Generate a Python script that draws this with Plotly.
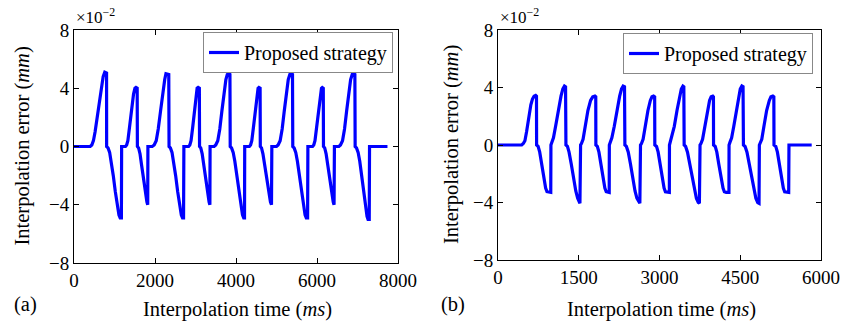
import plotly.graph_objects as go

# ---------------- data ----------------
# panel (a): interpolation time (ms), interpolation error (x1e-2 mm)
curve_a = [
    (0, 0), (400, 0),
    (440, 0.1), (480, 0.4), (520, 1.0), (570, 2.0), (620, 3.0), (670, 4.0), (720, 4.8), (760, 5.1), (795, 5.1), (804, 5.05), (806, 0),
    (840, -0.1), (880, -0.4), (920, -1.0), (970, -2.0), (1020, -3.1), (1070, -4.1), (1110, -4.7), (1140, -4.9), (1170, -4.9), (1176, 0),
    (1270, 0), (1300, 0.1), (1330, 0.4), (1370, 1.3), (1420, 2.6), (1470, 3.6), (1505, 4.0), (1530, 4.05), (1560, 4.0), (1565, 0),
    (1595, -0.1), (1630, -0.5), (1670, -1.3), (1720, -2.4), (1770, -3.3), (1800, -3.8), (1820, -4.0), (1825, 0),
    (1930, 0), (1980, 0.1), (2030, 0.4), (2080, 1.2), (2140, 2.5), (2190, 3.7), (2240, 4.6), (2270, 5.0), (2300, 5.0), (2340, 4.95), (2347, 0),
    (2380, -0.1), (2420, -0.4), (2460, -1.0), (2510, -2.0), (2560, -3.1), (2610, -4.1), (2650, -4.7), (2680, -4.9), (2705, -4.9), (2713, 0),
    (2830, 0), (2860, 0.1), (2890, 0.4), (2930, 1.3), (2980, 2.6), (3020, 3.6), (3040, 4.0), (3065, 4.05), (3095, 4.0), (3100, 0),
    (3130, -0.1), (3165, -0.5), (3205, -1.3), (3255, -2.4), (3305, -3.3), (3335, -3.8), (3355, -4.0), (3360, 0),
    (3460, 0), (3500, 0.1), (3550, 0.4), (3600, 1.2), (3650, 2.4), (3700, 3.6), (3750, 4.6), (3785, 4.95), (3815, 5.0), (3850, 4.95), (3857, 0),
    (3890, -0.1), (3930, -0.4), (3970, -1.0), (4020, -2.0), (4070, -3.1), (4120, -4.1), (4160, -4.7), (4190, -4.9), (4210, -4.9), (4215, 0),
    (4330, 0), (4360, 0.1), (4390, 0.4), (4430, 1.3), (4480, 2.6), (4520, 3.6), (4545, 4.0), (4565, 4.05), (4595, 4.0), (4600, 0),
    (4630, -0.1), (4665, -0.5), (4710, -1.3), (4760, -2.4), (4810, -3.3), (4850, -3.8), (4876, -4.0), (4885, 0),
    (5000, 0), (5040, 0.1), (5090, 0.4), (5140, 1.2), (5190, 2.4), (5240, 3.6), (5290, 4.6), (5330, 4.95), (5360, 5.0), (5395, 4.95), (5402, 0),
    (5435, -0.1), (5475, -0.4), (5515, -1.0), (5565, -2.0), (5615, -3.1), (5665, -4.1), (5705, -4.7), (5735, -4.9), (5768, -4.9), (5775, 0),
    (5890, 0), (5920, 0.1), (5950, 0.4), (5990, 1.3), (6040, 2.6), (6085, 3.6), (6110, 4.0), (6130, 4.05), (6155, 4.0), (6160, 0),
    (6190, -0.1), (6225, -0.5), (6265, -1.3), (6315, -2.4), (6365, -3.3), (6400, -3.8), (6421, -4.0), (6430, 0),
    (6540, 0), (6580, 0.1), (6630, 0.4), (6680, 1.2), (6730, 2.4), (6780, 3.6), (6830, 4.6), (6870, 4.95), (6900, 5.0), (6935, 4.95), (6942, 0),
    (6975, -0.1), (7015, -0.4), (7055, -1.0), (7100, -2.0), (7150, -3.1), (7195, -4.1), (7235, -4.8), (7260, -5.0), (7290, -5.0), (7297, 0),
    (7740, 0),
]

# panel (b)
curve_b = [
    (0, 0), (440, 0),
    (470, 0.1), (500, 0.3), (530, 0.9), (570, 1.9), (610, 2.8), (640, 3.2), (670, 3.4), (700, 3.45), (715, 3.4), (717, 0),
    (745, -0.1), (775, -0.5), (810, -1.3), (850, -2.3), (885, -3.0), (910, -3.25), (950, -3.3), (980, -3.3), (983, 0),
    (1000, 0.2), (1030, 0.5), (1070, 1.3), (1120, 2.4), (1170, 3.4), (1205, 3.9), (1235, 4.1), (1255, 4.05), (1262, 0),
    (1290, -0.1), (1320, -0.5), (1360, -1.3), (1400, -2.3), (1445, -3.2), (1480, -3.7), (1510, -4.0), (1522, -4.05), (1534, 0),
    (1550, 0.1), (1580, 0.4), (1620, 1.3), (1670, 2.4), (1720, 3.1), (1760, 3.35), (1800, 3.4), (1816, 3.35), (1818, 0),
    (1845, -0.1), (1875, -0.5), (1910, -1.3), (1950, -2.3), (1985, -3.0), (2010, -3.25), (2040, -3.3), (2066, -3.3), (2068, 0),
    (2085, 0.2), (2115, 0.5), (2160, 1.3), (2210, 2.4), (2260, 3.4), (2295, 3.9), (2325, 4.1), (2350, 4.05), (2357, 0),
    (2385, -0.1), (2420, -0.5), (2460, -1.3), (2500, -2.3), (2545, -3.2), (2580, -3.7), (2615, -4.0), (2635, -4.05), (2647, 0),
    (2665, 0.1), (2695, 0.4), (2735, 1.3), (2785, 2.4), (2830, 3.1), (2860, 3.35), (2890, 3.4), (2910, 3.35), (2913, 0),
    (2945, -0.1), (2975, -0.5), (3010, -1.3), (3050, -2.3), (3085, -3.0), (3110, -3.25), (3150, -3.3), (3183, -3.3), (3185, 0),
    (3200, 0.2), (3230, 0.5), (3275, 1.3), (3325, 2.4), (3370, 3.4), (3405, 3.9), (3435, 4.1), (3452, 4.05), (3458, 0),
    (3485, -0.1), (3520, -0.5), (3560, -1.3), (3600, -2.3), (3645, -3.2), (3685, -3.7), (3720, -4.0), (3741, -4.05), (3753, 0),
    (3770, 0.1), (3800, 0.4), (3840, 1.3), (3885, 2.4), (3930, 3.1), (3960, 3.35), (3990, 3.4), (4002, 3.35), (4004, 0),
    (4035, -0.1), (4065, -0.5), (4100, -1.3), (4140, -2.3), (4180, -3.0), (4205, -3.25), (4240, -3.3), (4290, -3.3), (4292, 0),
    (4310, 0.2), (4340, 0.5), (4380, 1.3), (4425, 2.4), (4470, 3.4), (4500, 3.9), (4530, 4.1), (4552, 4.05), (4559, 0),
    (4590, -0.1), (4625, -0.5), (4665, -1.3), (4705, -2.3), (4750, -3.2), (4790, -3.7), (4825, -4.0), (4849, -4.05), (4855, 0),
    (4870, 0.1), (4900, 0.4), (4940, 1.3), (4990, 2.4), (5040, 3.1), (5070, 3.35), (5105, 3.4), (5124, 3.35), (5127, 0),
    (5160, -0.1), (5190, -0.5), (5225, -1.3), (5265, -2.3), (5300, -3.0), (5325, -3.25), (5360, -3.3), (5400, -3.3), (5405, 0),
    (5827, 0),
]

time_a = [p[0] for p in curve_a]
err_a = [p[1] for p in curve_a]
time_b = [p[0] for p in curve_b]
err_b = [p[1] for p in curve_b]

y_ticks = [-8, -4, 0, 4, 8]
x_ticks_a = [0, 2000, 4000, 6000, 8000]
x_ticks_b = [0, 1500, 3000, 4500, 6000]
series_name = "Proposed strategy"
panel_labels = ["(a)", "(b)"]
x_title = "Interpolation time (<i>ms</i>)"
y_title = "Interpolation error (<i>mm</i>)"

# ---------------- figure ----------------
W, H = 856, 323
FONT = "Liberation Serif"
FS_TICK = 19
FS_TITLE = 20.5
FS_LEG = 20


def px(x):
    return x / W


def py(y):
    return 1 - y / H


fig = go.Figure()
fig.add_trace(go.Scatter(x=time_a, y=err_a, mode="lines", name=series_name,
                         line=dict(color="#0000ff", width=3.2), xaxis="x", yaxis="y",
                         legend="legend"))
fig.add_trace(go.Scatter(x=time_b, y=err_b, mode="lines", name=series_name,
                         line=dict(color="#0000ff", width=3.2), xaxis="x2", yaxis="y2",
                         legend="legend2"))

axis_common = dict(showline=True, mirror="ticks", linecolor="black", linewidth=1,
                   ticks="inside", ticklen=5, tickcolor="black", tickwidth=1,
                   showgrid=False, zeroline=False, automargin=False,
                   tickfont=dict(family=FONT, size=FS_TICK, color="black"))

legend_common = dict(xanchor="right", yanchor="top",
                     bgcolor="white", bordercolor="#888888", borderwidth=1,
                     font=dict(family=FONT, size=FS_LEG, color="black"),
                     itemwidth=30, tracegroupgap=0)

fig.update_layout(
    template="none",
    width=W, height=H,
    margin=dict(l=0, r=0, t=0, b=0, pad=0),
    paper_bgcolor="white", plot_bgcolor="white",
    font=dict(family=FONT, size=FS_TICK, color="black"),
    xaxis=dict(domain=[px(74), px(398)], range=[0, 8000], tickvals=x_ticks_a,
               anchor="y", **axis_common),
    yaxis=dict(domain=[py(263), py(30)], range=[-8, 8], tickvals=y_ticks,
               anchor="x", **axis_common),
    xaxis2=dict(domain=[px(498), px(821)], range=[0, 6000], tickvals=x_ticks_b,
                anchor="y2", **axis_common),
    yaxis2=dict(domain=[py(260), py(30)], range=[-8, 8], tickvals=y_ticks,
                anchor="x2", **axis_common),
    legend=dict(x=px(393), y=py(32), **legend_common),
    legend2=dict(x=px(813), y=py(33), **legend_common),
    showlegend=True,
)

ann = []
for (xl, ytop, ybot, xt_cx, yt_cx) in [
    (74, 30, 263, 237, 22),
    (498, 30, 260, 661, 451),
]:
    ann.append(dict(x=px(xl), y=py(ytop - 1), xref="paper", yref="paper",
                    xanchor="left", yanchor="bottom", showarrow=False,
                    text="×10<sup>−2</sup>", font=dict(family=FONT, size=17)))
    ann.append(dict(x=px(xt_cx), y=py(309), xref="paper", yref="paper",
                    xanchor="center", yanchor="middle", showarrow=False,
                    text=x_title, font=dict(family=FONT, size=FS_TITLE)))
    ann.append(dict(x=px(yt_cx), y=py((ytop + ybot) / 2), xref="paper", yref="paper",
                    xanchor="center", yanchor="middle", showarrow=False, textangle=-90,
                    text=y_title, font=dict(family=FONT, size=FS_TITLE)))
ann.append(dict(x=px(25), y=py(304), xref="paper", yref="paper", xanchor="center",
                yanchor="middle", showarrow=False, text=panel_labels[0],
                font=dict(family=FONT, size=FS_TITLE)))
ann.append(dict(x=px(453), y=py(304), xref="paper", yref="paper", xanchor="center",
                yanchor="middle", showarrow=False, text=panel_labels[1],
                font=dict(family=FONT, size=FS_TITLE)))
fig.update_layout(annotations=ann)

fig.write_html("out.html")
